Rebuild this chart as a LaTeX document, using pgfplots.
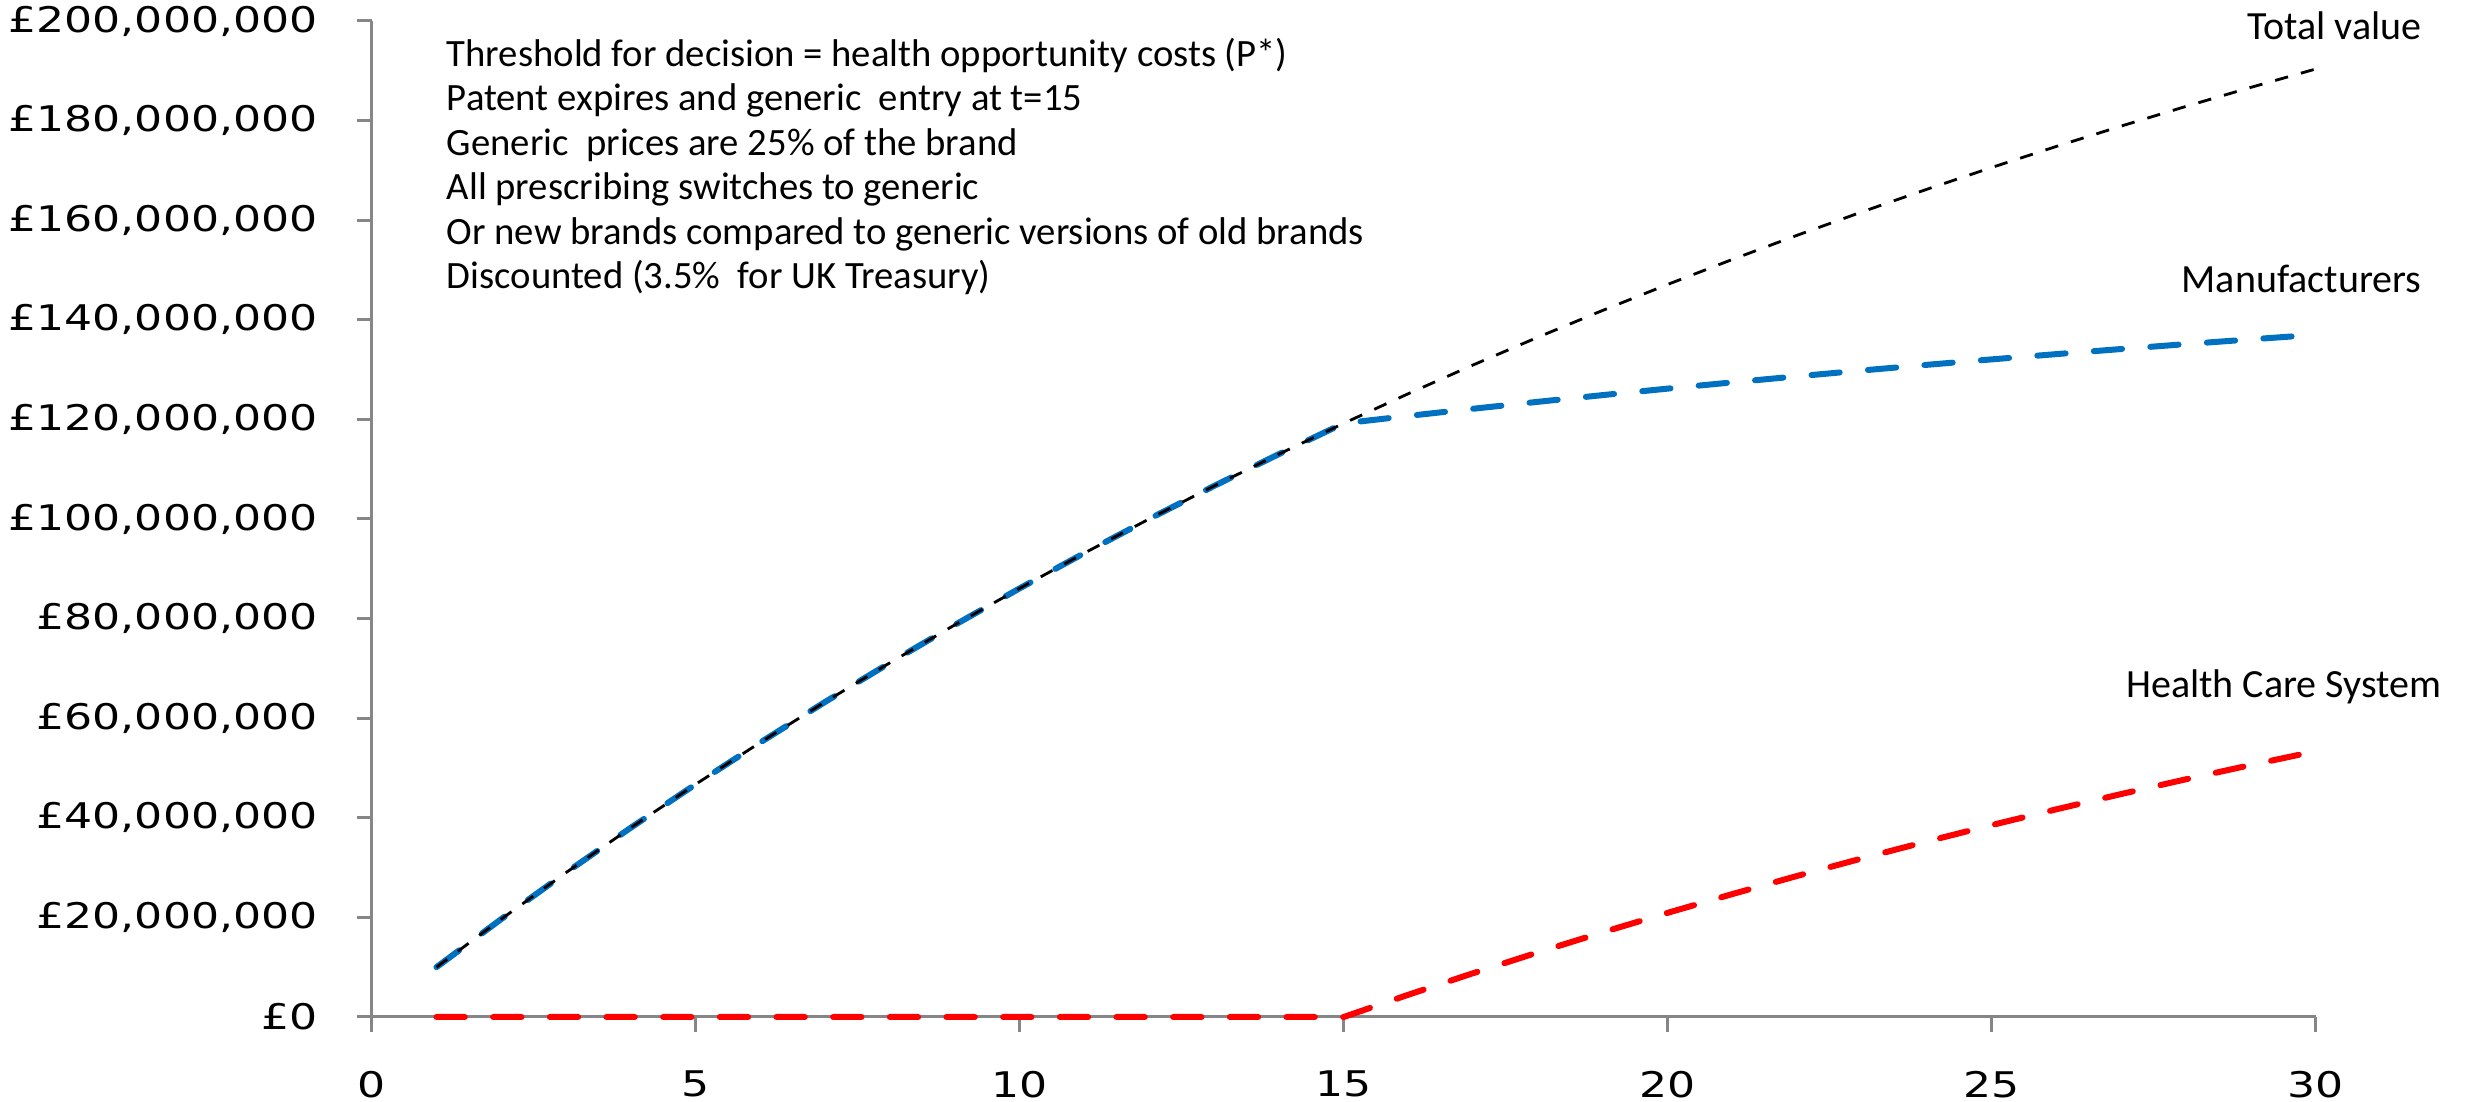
\documentclass[border=0pt]{standalone}
\usepackage{fontspec}
\setmainfont{Carlito}
\newfontfamily\tickfont[FakeStretch=1.25]{DejaVu Sans}
\usepackage{pgfplots}
\pgfplotsset{compat=1.18}
\usepackage{pgfplotstable}
\definecolor{mfgblue}{RGB}{0,112,192}
\definecolor{axgray}{RGB}{134,134,134}

% values in millions of pounds, cumulative, discounted
\pgfplotstableread{
t v
1 10.000
2 19.662
3 28.997
4 38.016
5 46.731
6 55.150
7 63.286
8 71.145
9 78.739
10 86.077
11 93.166
12 100.016
13 106.633
14 113.027
15 119.205
16 125.174
17 130.941
18 136.513
19 141.897
20 147.099
21 152.124
22 156.980
23 161.672
24 166.204
25 170.584
26 174.815
27 178.903
28 182.854
29 186.670
30 190.358
}\totaltab

\pgfplotstableread{
t v
1 10.000
2 19.662
3 28.997
4 38.016
5 46.731
6 55.150
7 63.286
8 71.145
9 78.739
10 86.077
11 93.166
12 100.016
13 106.633
14 113.027
15 119.205
16 120.697
17 122.139
18 123.532
19 124.878
20 126.178
21 127.435
22 128.649
23 129.822
24 130.955
25 132.050
26 133.108
27 134.130
28 135.117
29 136.071
30 136.993
}\mfgtab

\pgfplotstableread{
t v
1 0
2 0
3 0
4 0
5 0
6 0
7 0
8 0
9 0
10 0
11 0
12 0
13 0
14 0
15 0
16 4.477
17 8.802
18 12.981
19 17.019
20 20.920
21 24.689
22 28.331
23 31.850
24 35.249
25 38.534
26 41.708
27 44.774
28 47.737
29 50.599
30 53.364
}\hcstab

\begin{document}
\begin{tikzpicture}
\useasboundingbox (-111.5pt,-25.5pt) rectangle (628.9pt,305.1pt);
\begin{axis}[
    scale only axis,
    width=583.2pt, height=298.8pt,
    xmin=0, xmax=30, ymin=0, ymax=200,
    axis lines=left,
    axis line style={-, draw=axgray, line width=0.9pt},
    xtick={0,5,...,30},
    ytick={0,20,...,200},
    yticklabels={{£0},{£20,000,000},{£40,000,000},{£60,000,000},{£80,000,000},{£100,000,000},{£120,000,000},{£140,000,000},{£160,000,000},{£180,000,000},{£200,000,000}},
    tick align=outside,
    major tick length=4.5pt,
    tick style={draw=axgray, line width=0.9pt},
    /pgf/number format/assume math mode=true,
    ticklabel style={font=\tickfont\fontsize{10.6}{12}\selectfont, inner sep=0pt},
    xticklabel style={yshift=-11.5pt},
    yticklabel style={xshift=-11.5pt},
    clip=false,
]
\addplot[red, line width=1.8pt, line cap=round, dash pattern=on 8.5pt off 8.5pt] table[x=t, y=v] {\hcstab};
\addplot[mfgblue, line width=1.8pt, line cap=round, dash pattern=on 8.5pt off 8.5pt] table[x=t, y=v] {\mfgtab};
\addplot[black, line width=0.85pt, dash pattern=on 4pt off 4pt] table[x=t, y=v] {\totaltab};

\node[anchor=north west, align=left, inner sep=0pt, font=\fontsize{11.6}{13.35}\selectfont]
  at (axis cs:1.15,196.7) {Threshold for decision = health opportunity costs (P*)\\
  Patent expires and generic\ \ entry at t=15\\
  Generic\ \ prices are 25\% of the brand\\
  All prescribing switches to generic\\
  Or new brands compared to generic versions of old brands\\
  Discounted (3.5\%\ \ for UK Treasury)};
\node[anchor=base east, inner sep=0pt, font=\fontsize{12}{14}\selectfont] at (axis cs:31.64,196.2) {Total value};
\node[anchor=base east, inner sep=0pt, font=\fontsize{12}{14}\selectfont] at (axis cs:31.64,145.4) {Manufacturers};
\node[anchor=base east, inner sep=0pt, font=\fontsize{12}{14}\selectfont] at (axis cs:31.95,64.2) {Health Care System};
\end{axis}
\end{tikzpicture}
\end{document}
